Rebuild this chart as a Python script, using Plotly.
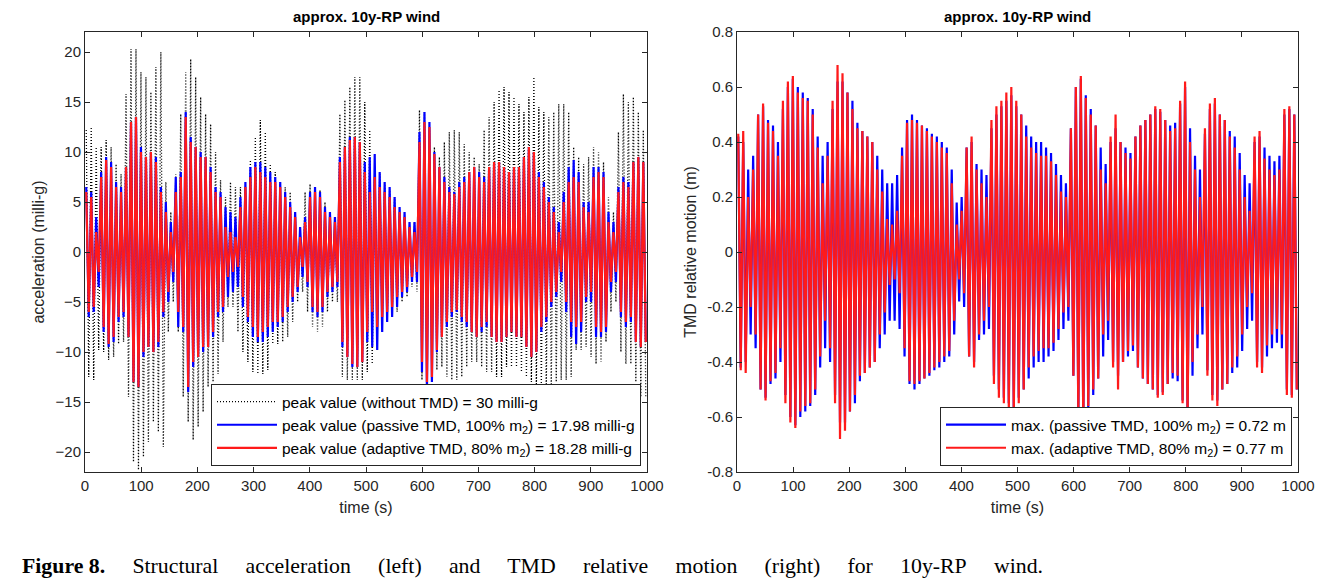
import numpy as np
import plotly.graph_objects as go

# ---------------- data ----------------
PERIOD = 8.85  # s, oscillation period (≈113 cycles in 1000 s)

# Left: structural acceleration (milli-g), peak per cycle
acc_none_pos = [12.2, 12.5, 10.5, 10.5, 11.2, 10.5, 8.8, 7.8, 15.8, 20.3, 20.3, 18, 17.5, 16, 18.5, 20,
                7, 4, 7.8, 13.8, 18, 19.3, 17.5, 15.5, 13.8, 12.8, 10, 7.2, 5.5, 7, 6.5, 6.5,
                6.2, 9.2, 11.5, 13.2, 12, 8.8, 8, 7, 6.5, 6, 4, 2.5, 6, 6.8, 6.5, 6.2,
                5, 3.5, 3, 13.8, 15.2, 16.5, 17.5, 17.5, 15, 12.2, 8.5, 7.8, 6.8, 6.2, 5.5, 4,
                3.5, 2.5, 3, 14.2, 14, 12.2, 10.5, 9.5, 11, 12, 12.2, 12, 10.8, 10, 9.5, 8.8,
                12.2, 13.5, 15, 16.2, 16.5, 16, 15.5, 14.8, 14, 15.5, 17.5, 14.5, 14, 13.5, 14, 14.8,
                14.8, 14, 10.5, 9.5, 8.8, 9.5, 10.5, 10, 9, 5.5, 4, 12, 15.8, 15, 15.5, 14, 12.2]
acc_none_neg = [12.5, 12.8, 9.8, 10, 10.8, 10.5, 9.2, 9, 14.5, 21, 21.8, 20.5, 19, 17, 18, 19.5,
                8, 5, 8, 14.5, 17, 18.8, 17.5, 16, 13.5, 13, 12.2, 9, 5.5, 5.5, 8, 10,
                11, 12, 12.2, 12.2, 11.8, 9.2, 9.2, 9, 8.5, 7, 5, 4, 6, 7.5, 8, 7.5,
                6, 5, 5, 12.5, 12.8, 12.8, 12.8, 12.8, 12, 11.2, 8, 7.2, 7, 6.5, 6, 5,
                4.5, 3.5, 4, 12.8, 12.8, 12, 11.8, 11.5, 12.5, 12.8, 12.8, 12.5, 11.5, 11, 11, 11.5,
                12, 12, 12.5, 12.5, 11.5, 11.5, 11.5, 12, 12.5, 13, 13.5, 13.5, 13.5, 13.5, 13, 12.8,
                12.8, 12.5, 9.8, 9.8, 9.5, 10.5, 11.2, 11, 9, 6, 5, 10, 11.2, 11.2, 13, 14.5, 14.5]
acc_passive = [6.5, 6, 3.5, 8, 9.5, 9, 7, 6.5, 8.5, 13, 13.5, 10.5, 9.5, 10, 9.5, 6.5,
               5, 3, 7.5, 8, 14, 11.5, 10.5, 10, 9.5, 8.5, 6.5, 6, 4.5, 4, 3.5, 5.5,
               7, 8.5, 9, 9, 8.5, 8, 7.5, 7, 6, 5, 4, 2.5, 3.5, 6, 6.5, 6,
               4.5, 4, 3.5, 9.5, 10.5, 11.5, 11.5, 11, 9, 9.5, 9.8, 8, 7, 6.5, 5.5, 4.5,
               4, 3, 3, 12, 14, 13, 10, 8.5, 7.5, 6.5, 6, 7, 7.5, 8, 8.5, 8,
               7.5, 8.5, 9, 9, 8.5, 8, 8.5, 8.5, 9.5, 10.5, 10, 8, 7, 5.5, 4.5, 3,
               6, 8.5, 9.2, 8, 5, 5, 8.5, 8.5, 8, 4, 3, 6.5, 7.5, 7, 9, 9.5, 9]
acc_adaptive = [6, 5.5, 2, 7.5, 9.2, 8.5, 6.5, 6, 8.5, 13, 13.5, 10, 9.5, 10, 9, 6,
                4, 2, 6, 7.5, 13.5, 11, 10.5, 9.5, 9.5, 8, 6, 5.5, 2.5, 2, 1.5, 4.5,
                6.5, 7.5, 8.5, 8, 7.5, 7, 7, 6.5, 5.5, 4.5, 3.5, 1.5, 3, 5.5, 6, 5.5,
                4, 3.5, 3, 9, 10.5, 11.2, 11.5, 11, 8, 6, 7.5, 6.5, 6, 5.5, 4.5, 4,
                3.5, 2.5, 2, 11, 13, 12.5, 9.8, 8.5, 7, 6, 5.8, 6.5, 7, 8, 8.5, 7.5,
                7, 8.5, 9, 9, 8.5, 8, 8.5, 8.5, 9.5, 10.5, 10, 7.5, 6.5, 5, 4, 2,
                5, 7, 7.5, 7, 4.5, 4, 7.5, 8, 7.5, 3, 2, 6, 7, 6.5, 9, 9.5, 9]

# Right: TMD relative motion (m), peak per cycle
mot_passive = [0.42, 0.4, 0.3, 0.35, 0.5, 0.53, 0.48, 0.46, 0.4, 0.52, 0.6, 0.63, 0.6, 0.58, 0.56, 0.52,
               0.42, 0.35, 0.4, 0.52, 0.62, 0.62, 0.58, 0.55, 0.47, 0.44, 0.42, 0.4, 0.35, 0.3, 0.25, 0.25,
               0.28, 0.38, 0.48, 0.5, 0.48, 0.46, 0.45, 0.43, 0.42, 0.4, 0.38, 0.3, 0.18, 0.2, 0.38, 0.4,
               0.32, 0.3, 0.28, 0.45, 0.5, 0.53, 0.55, 0.57, 0.53, 0.5, 0.46, 0.42, 0.4, 0.4, 0.38, 0.36,
               0.32, 0.28, 0.25, 0.45, 0.6, 0.63, 0.57, 0.52, 0.46, 0.38, 0.32, 0.4, 0.45, 0.4, 0.38, 0.36,
               0.42, 0.46, 0.48, 0.5, 0.52, 0.51, 0.48, 0.46, 0.47, 0.54, 0.6, 0.45, 0.35, 0.3, 0.43, 0.52,
               0.54, 0.5, 0.48, 0.44, 0.42, 0.36, 0.28, 0.25, 0.4, 0.42, 0.38, 0.35, 0.33, 0.35, 0.5, 0.52, 0.5]
mot_adaptive = [0.43, 0.44, 0.2, 0.3, 0.5, 0.54, 0.47, 0.44, 0.35, 0.55, 0.62, 0.64, 0.58, 0.56, 0.55, 0.5,
                0.38, 0.25, 0.35, 0.55, 0.68, 0.65, 0.58, 0.52, 0.45, 0.44, 0.42, 0.4, 0.3, 0.22, 0.12, 0.1,
                0.15, 0.35, 0.47, 0.48, 0.47, 0.46, 0.44, 0.42, 0.4, 0.38, 0.36, 0.25, 0.1, 0.15, 0.38, 0.42,
                0.3, 0.25, 0.2, 0.48, 0.53, 0.55, 0.58, 0.6, 0.55, 0.5, 0.42, 0.38, 0.36, 0.35, 0.35, 0.33,
                0.28, 0.22, 0.2, 0.45, 0.6, 0.64, 0.56, 0.5, 0.46, 0.3, 0.25, 0.42, 0.5, 0.4, 0.36, 0.34,
                0.42, 0.46, 0.48, 0.5, 0.53, 0.52, 0.48, 0.44, 0.45, 0.55, 0.62, 0.4, 0.3, 0.2, 0.45, 0.54,
                0.56, 0.5, 0.48, 0.42, 0.38, 0.3, 0.2, 0.15, 0.42, 0.44, 0.34, 0.3, 0.28, 0.3, 0.52, 0.53, 0.5]

x_ticks = [0, 100, 200, 300, 400, 500, 600, 700, 800, 900, 1000]
acc_ticks = [-20, -15, -10, -5, 0, 5, 10, 15, 20]
mot_ticks = [-0.8, -0.6, -0.4, -0.2, 0, 0.2, 0.4, 0.6, 0.8]
mot_ticktext = ["-0.8", "-0.6", "-0.4", "-0.2", "0", "0.2", "0.4", "0.6", "0.8"]

title_txt = "approx. 10y-RP wind"
leg_none = "peak value (without TMD) = 30 milli-g"
leg_acc_p = "peak value (passive TMD, 100% m<sub>2</sub>) = 17.98 milli-g"
leg_acc_a = "peak value (adaptive TMD, 80% m<sub>2</sub>) = 18.28 milli-g"
leg_mot_p = "max. (passive TMD, 100% m<sub>2</sub>) = 0.72 m"
leg_mot_a = "max. (adaptive TMD, 80% m<sub>2</sub>) = 0.77 m"
caption_words = ["<b>Figure 8.</b>", "Structural", "acceleration", "(left)", "and", "TMD", "relative",
                 "motion", "(right)", "for", "10y-RP", "wind."]


def zigzag(pos, neg=None):
    """Alternate each cycle's positive and negative peak along the time axis."""
    if neg is None:
        neg = pos
    t, v = [], []
    for i, (p, n) in enumerate(zip(pos, neg)):
        t += [i * PERIOD + PERIOD / 4, i * PERIOD + 3 * PERIOD / 4]
        v += [p, -n]
    return t, v


FONT = "Liberation Sans, Arial, sans-serif"
fig = go.Figure()

# ---- left panel ----
t, v = zigzag(acc_none_pos, acc_none_neg)
fig.add_trace(go.Scatter(x=t, y=v, mode="lines", name=leg_none,
                         line=dict(color="black", width=1.3, dash="1px,2px"),
                         xaxis="x", yaxis="y", legend="legend"))
t, v = zigzag(acc_passive)
fig.add_trace(go.Scatter(x=t, y=v, mode="lines", name=leg_acc_p,
                         line=dict(color="#0000ff", width=2.2),
                         xaxis="x", yaxis="y", legend="legend"))
t, v = zigzag(acc_adaptive)
fig.add_trace(go.Scatter(x=t, y=v, mode="lines", name=leg_acc_a,
                         line=dict(color="#ff1a1a", width=2.2),
                         xaxis="x", yaxis="y", legend="legend"))

# ---- right panel ----
t, v = zigzag(mot_passive)
fig.add_trace(go.Scatter(x=t, y=v, mode="lines", name=leg_mot_p,
                         line=dict(color="#0000ff", width=2.2),
                         xaxis="x2", yaxis="y2", legend="legend2"))
t, v = zigzag(mot_adaptive)
fig.add_trace(go.Scatter(x=t, y=v, mode="lines", name=leg_mot_a,
                         line=dict(color="#ff1a1a", width=2.2),
                         xaxis="x2", yaxis="y2", legend="legend2"))

# the page body adds an 8 px margin, so lay out in window pixels minus that offset
OFF = 8
W, H = 1335 - 2 * OFF, 588 - 2 * OFF
def px_x(p):
    return (p - OFF) / W
def px_y(p):
    return 1 - (p - OFF) / H

axis_common = dict(showline=True, linecolor="#262626", linewidth=1, mirror="ticks",
                   ticks="inside", ticklen=5, tickcolor="#262626", showgrid=False,
                   zeroline=False, automargin=False,
                   tickfont=dict(family=FONT, size=15, color="#262626"))

fig.update_layout(
    width=W, height=H, margin=dict(l=0, r=0, t=0, b=0, autoexpand=False),
    paper_bgcolor="white", plot_bgcolor="white",
    font=dict(family=FONT, color="#262626"),
    xaxis=dict(domain=[px_x(85), px_x(647)], range=[0, 1000], tickvals=x_ticks,
               title=dict(text="time (s)", font=dict(size=16), standoff=8), anchor="y", **axis_common),
    yaxis=dict(domain=[px_y(472), px_y(32)], range=[-22, 22], tickvals=acc_ticks,
               title=dict(text="acceleration (milli-g)", font=dict(size=16), standoff=6), anchor="x", **axis_common),
    xaxis2=dict(domain=[px_x(737), px_x(1298)], range=[0, 1000], tickvals=x_ticks,
                title=dict(text="time (s)", font=dict(size=16), standoff=8), anchor="y2", **axis_common),
    yaxis2=dict(domain=[px_y(472), px_y(32)], range=[-0.8, 0.8], tickvals=mot_ticks, ticktext=mot_ticktext,
                title=dict(text="TMD relative motion (m)", font=dict(size=16), standoff=6), anchor="x2", **axis_common),
    legend=dict(x=px_x(641), y=px_y(466), xanchor="right", yanchor="bottom",
                bgcolor="white", bordercolor="#262626", borderwidth=1,
                font=dict(family=FONT, size=15.5, color="black"), tracegroupgap=0, itemwidth=60),
    legend2=dict(x=px_x(1292), y=px_y(466), xanchor="right", yanchor="bottom",
                 bgcolor="white", bordercolor="#262626", borderwidth=1,
                 font=dict(family=FONT, size=15.5, color="black"), tracegroupgap=0, itemwidth=60),
    showlegend=True,
)

for lo, hi in [(85, 647), (737, 1298)]:
    fig.add_annotation(text="<b>" + title_txt + "</b>", x=(px_x(lo) + px_x(hi)) / 2, y=px_y(17),
                       xref="paper", yref="paper", xanchor="center", yanchor="middle", showarrow=False,
                       font=dict(family=FONT, size=15, color="black"))

# caption: words spread across the reference width (justified text)
cap_font = dict(family="Liberation Serif, Times New Roman, serif", size=21.8, color="black")
fig.add_annotation(text=("\u2003 ").join(caption_words), x=px_x(20), y=px_y(566),
                   xref="paper", yref="paper", xanchor="left", yanchor="middle", showarrow=False,
                   font=cap_font)

fig.write_html("out.html")
